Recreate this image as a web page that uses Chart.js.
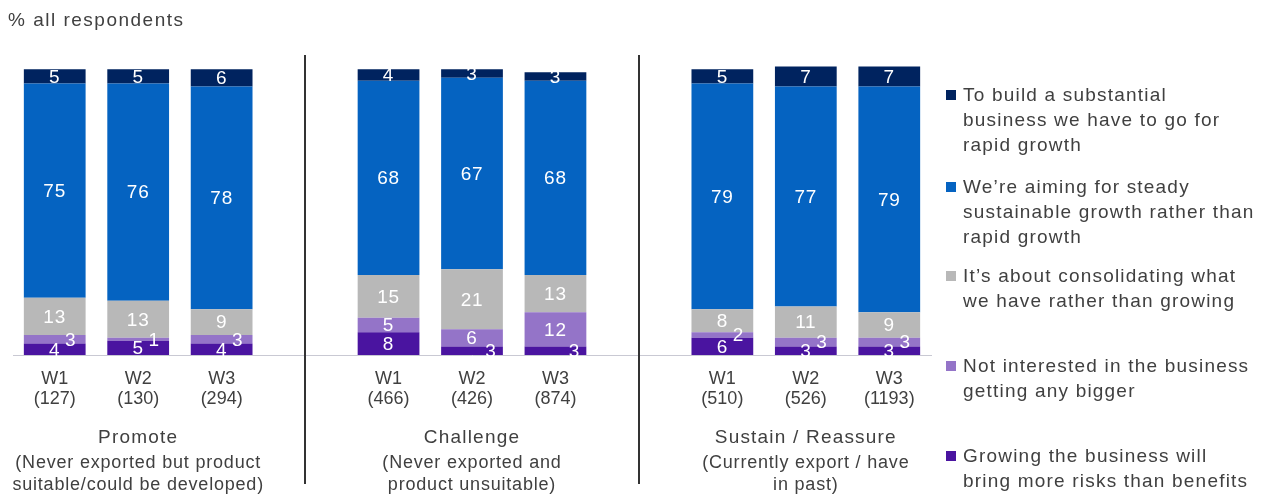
<!DOCTYPE html>
<html>
<head>
<meta charset="utf-8">
<script src="https://cdn.jsdelivr.net/npm/chart.js@4.4.0/dist/chart.umd.min.js"></script>
<style>
  body { margin: 0; background: #fff; font-family: "Liberation Sans", Arial, sans-serif; color: #404040; }
  #wrap { position: relative; width: 1271px; height: 496px; overflow: hidden; }
  #title { position: absolute; left: 8px; top: 8px; font-size: 19px; line-height: 24px; letter-spacing: 1.5px; }
  .lg-item { position: absolute; left: 945px; padding-left: 18px; font-size: 19px; line-height: 25px; letter-spacing: 1.2px; white-space: nowrap; }
  .lg-item i { position: absolute; left: 1px; top: 8px; width: 10px; height: 10px; }
</style>
</head>
<body>
<div id="wrap">
  <canvas id="growthChart" width="1271" height="496"></canvas>
  <div id="title">% all respondents</div>
  <div id="legend"></div>
</div>
<script>
/* ─── DATA ─────────────────────────────────────────────── */
// 11 slots: 3 waves per segment, empty slot between segments
const CATEGORIES = [
  ['W1', '(127)'], ['W2', '(130)'], ['W3', '(294)'], '',
  ['W1', '(466)'], ['W2', '(426)'], ['W3', '(874)'], '',
  ['W1', '(510)'], ['W2', '(526)'], ['W3', '(1193)'],
];
const GROUPS      = ['Promote', 'Challenge', 'Sustain / Reassure'];
const GROUP_NOTES = [
  ['(Never exported but product', 'suitable/could be developed)'],
  ['(Never exported and', 'product unsuitable)'],
  ['(Currently export / have', 'in past)'],
];

const RAPID          = [5, 5, 6, null, 4, 3, 3, null, 5, 7, 7];
const STEADY         = [75, 76, 78, null, 68, 67, 68, null, 79, 77, 79];
const CONSOLIDATE    = [13, 13, 9, null, 15, 21, 13, null, 8, 11, 9];
const NOT_INTERESTED = [3, 1, 3, null, 5, 6, 12, null, 2, 3, 3];
const RISKS          = [4, 5, 4, null, 8, 3, 3, null, 6, 3, 3];

const SERIES_NAMES = {
  rapid:       ['To build a substantial', 'business we have to go for', 'rapid growth'],
  steady:      ['We\u2019re aiming for steady', 'sustainable growth rather than', 'rapid growth'],
  consolidate: ['It\u2019s about consolidating what', 'we have rather than growing'],
  notInt:      ['Not interested in the business', 'getting any bigger'],
  risks:       ['Growing the business will', 'bring more risks than benefits'],
};

const FONT = '"Liberation Sans", Arial, sans-serif';

/* ─── DATASETS (bottom of stack first) ─────────────────── */
const datasets = [
  { key: 'risks',       data: RISKS,          backgroundColor: '#4a14a0' },
  { key: 'notInt',      data: NOT_INTERESTED, backgroundColor: '#9474c8' },
  { key: 'consolidate', data: CONSOLIDATE,    backgroundColor: '#b8b8b8' },
  { key: 'steady',      data: STEADY,         backgroundColor: '#0563c1' },
  { key: 'rapid',       data: RAPID,          backgroundColor: '#00235f' },
].map(d => ({ ...d, label: SERIES_NAMES[d.key].join(' '), barPercentage: 0.74, categoryPercentage: 1, borderWidth: 0 }));

/* ─── Legend (top item = top of stack) ─────────────────── */
const legendTops = [82, 174, 263, 353, 443];
document.getElementById('legend').innerHTML = datasets.slice().reverse().map((d, i) => `
  <div class="lg-item" style="top:${legendTops[i]}px"><i style="background:${d.backgroundColor}"></i>${SERIES_NAMES[d.key].join('<br>')}</div>`).join('');

/* ─── Plugin: value labels, separators, group captions ─── */
const decorPlugin = {
  id: 'decor',
  afterDatasetsDraw(chart) {
    const ctx = chart.ctx;
    ctx.save();
    ctx.font = '19px ' + FONT;
    ctx.letterSpacing = '0.8px';
    ctx.fillStyle = '#ffffff';
    ctx.textAlign = 'center';
    ctx.textBaseline = 'middle';
    chart.data.datasets.forEach((ds, di) => {
      chart.getDatasetMeta(di).data.forEach((bar, i) => {
        const v = ds.data[i];
        if (v == null) return;
        let x = bar.x;
        const y = (bar.y + bar.base) / 2 + 1;
        // small bottom segments: push label to the right, like the original
        if (di === 1 && v <= 3) x += 16;
        if (di === 0 && v <= 3 && NOT_INTERESTED[i] > 3) x += 19;
        ctx.fillText(String(v), x, y);
      });
    });
    ctx.restore();
  },
  afterDraw(chart) {
    const ctx = chart.ctx;
    const xs = chart.scales.x;
    ctx.save();
    // separators between segments
    ctx.strokeStyle = '#333333';
    ctx.lineWidth = 2;
    CATEGORIES.forEach((c, i) => {
      if (c !== '') return;
      const x = Math.round(xs.getPixelForValue(i));
      ctx.beginPath();
      ctx.moveTo(x, 55);
      ctx.lineTo(x, 484);
      ctx.stroke();
    });
    // group captions
    ctx.fillStyle = '#404040';
    ctx.textAlign = 'center';
    ctx.textBaseline = 'middle';
    GROUPS.forEach((g, gi) => {
      const x = xs.getPixelForValue(gi * 4 + 1);
      ctx.font = '19px ' + FONT;
      ctx.letterSpacing = '1.2px';
      ctx.fillText(g, x, 438);
      ctx.font = '18px ' + FONT;
      ctx.letterSpacing = '0.8px';
      GROUP_NOTES[gi].forEach((line, li) => ctx.fillText(line, x, 463 + li * 22));
    });
    ctx.restore();
  },
};

new Chart(document.getElementById('growthChart'), {
  type: 'bar',
  data: { labels: CATEGORIES, datasets },
  options: {
    responsive: false,
    animation: false,
    layout: { padding: { left: 13, right: 340, top: 55, bottom: 0 } },
    plugins: { legend: { display: false }, tooltip: { enabled: false } },
    scales: {
      x: {
        stacked: true,
        grid: { display: false, drawTicks: false },
        border: { display: true, color: '#c9c9d3', width: 1 },
        ticks: { color: '#404040', font: { family: FONT, size: 18, lineHeight: 1.12 }, padding: 14, maxRotation: 0, autoSkip: false },
        afterFit: s => { s.height = 141; },
      },
      y: { stacked: true, display: false, min: 0, max: 105 },
    },
  },
  plugins: [decorPlugin],
});
</script>
</body>
</html>
